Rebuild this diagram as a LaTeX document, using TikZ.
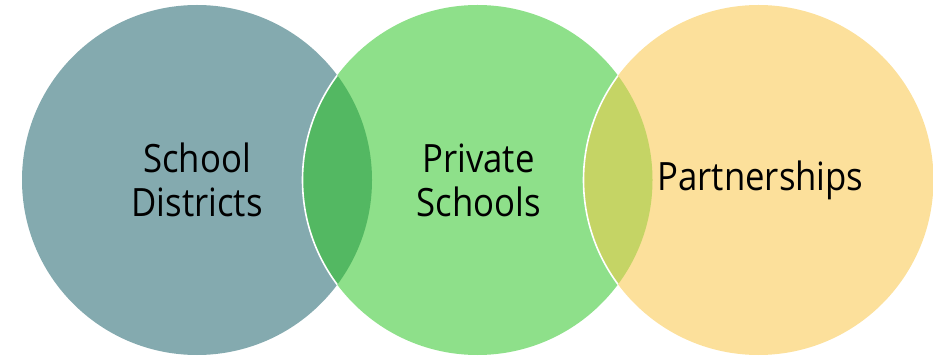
\documentclass[tikz,border=0pt]{standalone}
\usepackage{fontspec}
\setmainfont{Open Sans}[FakeStretch=0.89]
\usetikzlibrary{calc}
\definecolor{slate}{HTML}{84AAAF}
\definecolor{mint}{HTML}{8EE08A}
\definecolor{sand}{HTML}{FCE09B}
\definecolor{leaf}{HTML}{53B862}
\definecolor{olive}{HTML}{C5D465}
\tikzset{
  label text/.style={align=center, text=black, font=\fontsize{39}{44}\selectfont, inner sep=0pt},
  seam/.style={draw=white, line width=1.6pt}
}
\begin{document}
\begin{tikzpicture}[x=1pt,y=1pt]
\useasboundingbox (0,0) rectangle (933,356);
\def\R{175pt}
\coordinate (ca) at (197,176);
\coordinate (cb) at (477.5,176);
\coordinate (cc) at (758.5,176);
% the three discs
\fill[slate] (ca) circle (\R);
\fill[mint] (cb) circle (\R);
\fill[sand] (cc) circle (\R);
% overlap of the first two discs
\begin{scope}
  \clip (ca) circle (\R);
  \fill[leaf] (cb) circle (\R);
  \draw[seam] (cb) circle (\R);
\end{scope}
% overlap of the last two discs
\begin{scope}
  \clip (cb) circle (\R);
  \fill[olive] (cc) circle (\R);
  \draw[seam] (cc) circle (\R);
\end{scope}
% labels
\node[label text] (ta) at (ca) {School\\Districts};
\node[label text] (tb) at ($(cb)+(1,0)$) {Private\\Schools};
\node[label text] (tc) at ($(cc)+(2,0)$) {Partnerships};
\end{tikzpicture}
\end{document}
